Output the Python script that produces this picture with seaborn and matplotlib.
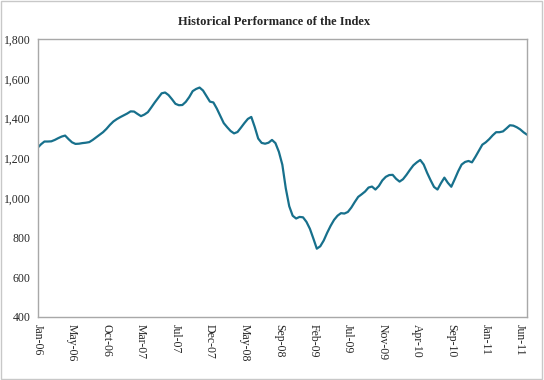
import numpy as np
import pandas as pd
import matplotlib
matplotlib.use("Agg")
import matplotlib.pyplot as plt
from matplotlib.ticker import FuncFormatter
from matplotlib.patches import Rectangle
import seaborn as sns


# ===============================
# DATA (bi-weekly index level)
# ===============================

index_level = [
    1252, 1270, 1284, 1284, 1285, 1292, 1301, 1309, 1314, 1296,
    1280, 1272, 1273, 1276, 1278, 1281, 1292, 1305, 1318, 1331,
    1348, 1368, 1385, 1397, 1407, 1416, 1425, 1436, 1435, 1423,
    1412, 1420, 1432, 1456, 1481, 1504, 1527, 1531, 1518, 1497,
    1474, 1467, 1468, 1484, 1508, 1538, 1549, 1556, 1541, 1513,
    1485, 1481, 1450, 1414, 1377, 1356, 1337, 1325, 1332, 1354,
    1377, 1398, 1408, 1357, 1299, 1277, 1273, 1278, 1292, 1276,
    1232, 1167, 1048, 958, 910, 896, 904, 902, 879, 844,
    795, 744, 756, 785, 824, 859, 889, 910, 923, 921,
    929, 951, 979, 1005, 1018, 1032, 1052, 1057, 1042, 1060,
    1088, 1106, 1115, 1116, 1096, 1082, 1094, 1116, 1141, 1164,
    1179, 1191, 1168, 1126, 1089, 1055, 1042, 1074, 1102, 1076,
    1056, 1094, 1134, 1168, 1181, 1186, 1179, 1207, 1237, 1268,
    1280, 1296, 1315, 1331, 1331, 1335, 1350, 1366, 1364, 1356,
    1345, 1330, 1318,
]

tick_labels = ["Jan-06", "May-06", "Oct-06", "Mar-07", "Jul-07", "Dec-07",
               "May-08", "Sep-08", "Feb-09", "Jul-09", "Nov-09", "Apr-10",
               "Sep-10", "Jan-11", "Jun-11"]

y_ticks = [400, 600, 800, 1000, 1200, 1400, 1600, 1800]

title = "Historical Performance of the Index"


# ===============================
# PLOT
# ===============================

df = pd.DataFrame({"period": np.arange(len(index_level)), "level": index_level})

sns.set_style("white")
plt.rcParams["font.family"] = ["Liberation Serif", "DejaVu Serif"]

fig = plt.figure(figsize=(5.44, 3.80), dpi=100)
ax = fig.add_axes([0.069, 0.166, 0.9, 0.731])

sns.lineplot(data=df, x="period", y="level", ax=ax, color="#17708c", linewidth=1.6)

step = 10
ax.set_xticks(np.arange(len(tick_labels)) * step)
ax.set_xticklabels(tick_labels, rotation=-90, fontsize=8.5)
ax.set_xlim(0, len(index_level) - 1)

ax.set_yticks(y_ticks)
ax.set_ylim(min(y_ticks), max(y_ticks))
ax.yaxis.set_major_formatter(FuncFormatter(lambda v, p: f"{int(v):,}"))
ax.tick_params(axis="y", labelsize=8.5, length=3, color="#a0a0a0", pad=2)
ax.tick_params(axis="x", length=3, color="#a0a0a0", pad=2)

for s in ax.spines.values():
    s.set_color("#a8a8a8")
    s.set_linewidth(1.0)

ax.set_xlabel("")
ax.set_ylabel("")

fig.text(0.503, 0.943, title, ha="center", va="center",
         fontsize=9, fontweight="bold")

# outer frame
fig.patches.append(Rectangle((0.002, 0.003), 0.995, 0.994, transform=fig.transFigure,
                             fill=False, edgecolor="#c8c8c8", linewidth=1.0))

fig.savefig("out.png", dpi=100)
